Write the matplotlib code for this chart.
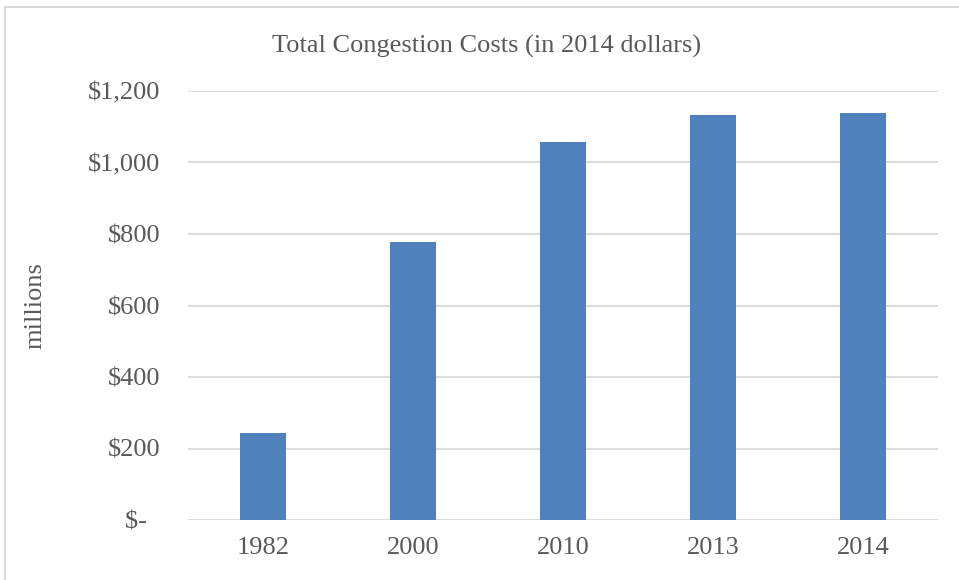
import matplotlib.pyplot as plt
from matplotlib.patches import Rectangle
from matplotlib.ticker import FuncFormatter

years = ["1982", "2000", "2010", "2013", "2014"]
costs = [243, 778, 1058, 1133, 1138]  # millions of 2014 dollars

plt.rcParams['font.family'] = ['Liberation Serif', 'DejaVu Serif']
grey = '#595959'

fig = plt.figure(figsize=(9.59, 5.80), dpi=100)
ax = fig.add_axes([188/959, 1 - 520/580, 750/959, 429/580])

ax.bar(years, costs, width=0.31, color='#4F81BD', zorder=3)

ax.set_ylim(0, 1200)
ax.set_xlim(-0.5, len(years) - 0.5)
ax.set_yticks(range(0, 1201, 200))


def dollars(v, pos):
    # accounting style: zero shown as a dash
    if v == 0:
        return '$-\u2007'
    return '${:,.0f}'.format(v)


ax.yaxis.set_major_formatter(FuncFormatter(dollars))
ax.grid(axis='y', color='#D9D9D9', linewidth=1.3, zorder=0)
for s in ax.spines.values():
    s.set_visible(False)
ax.tick_params(length=0, labelsize=19, colors=grey)
ax.tick_params(axis='y', pad=20)
ax.tick_params(axis='x', pad=12)
for lab in ax.get_yticklabels():
    lab.set_horizontalalignment('right')

ax.set_ylabel('millions', fontsize=19, color=grey)
ax.yaxis.set_label_coords(-142/750, 0.5)
fig.text(0.5 + 7/959, 1 - 46/580, 'Total Congestion Costs (in 2014 dollars)',
         ha='center', va='center', fontsize=19, color=grey)

# light chart-area border
fig.patches.append(Rectangle((5/959, -0.01), 1.02, 1 - 7/580 + 0.01,
                             transform=fig.transFigure, fill=False,
                             edgecolor='#D9D9D9', linewidth=1.5))

fig.savefig('out.png', dpi=100)
